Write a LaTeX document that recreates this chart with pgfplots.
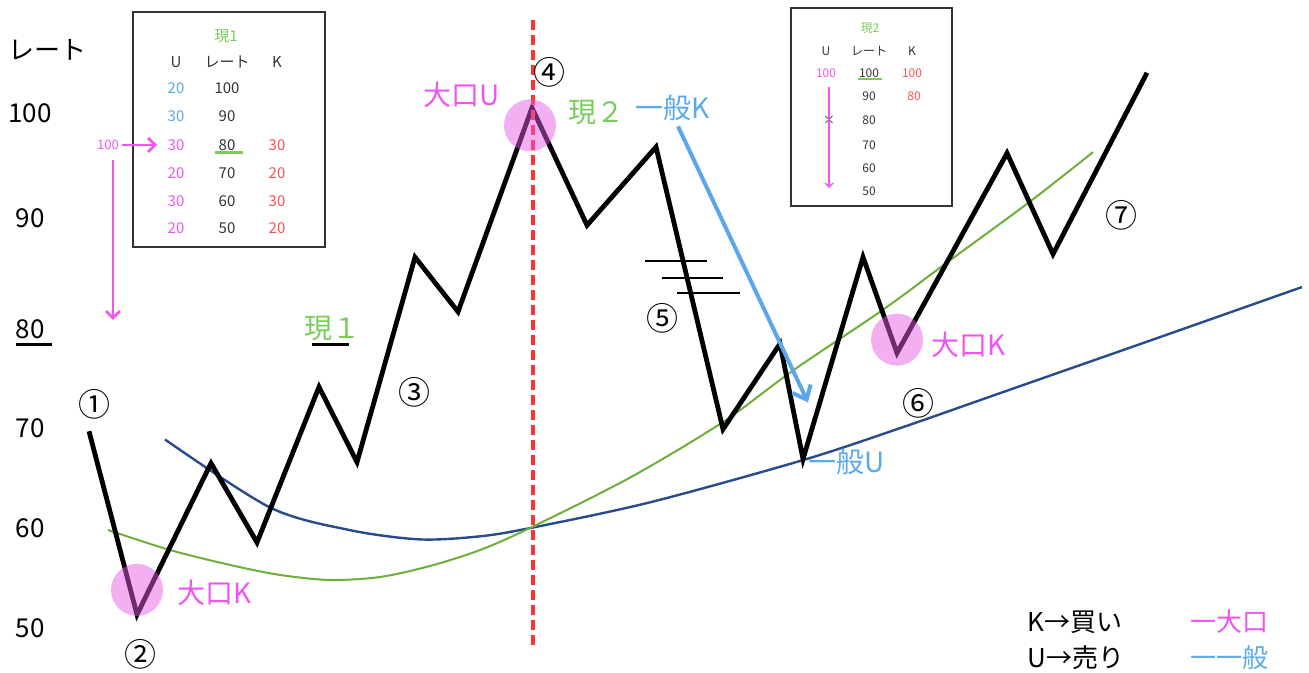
\documentclass[border=0pt]{standalone}
\usepackage{pgfplots}
\pgfplotsset{compat=1.18}
\usepackage{fontspec}
\setmainfont{Noto Sans CJK JP}
\usetikzlibrary{arrows.meta}

\definecolor{pinkT}{RGB}{238,85,238}
\definecolor{greenT}{RGB}{120,205,90}
\definecolor{blueT}{RGB}{90,170,235}
\definecolor{redT}{RGB}{255,80,80}
\definecolor{circ}{RGB}{228,90,228}
\definecolor{dashred}{RGB}{255,50,50}
\definecolor{greencurve}{RGB}{110,175,60}
\definecolor{bluecurve}{RGB}{40,75,140}
\definecolor{arrowblue}{RGB}{90,168,235}
\definecolor{tablegray}{RGB}{51,51,51}

\begin{document}
\begin{tikzpicture}
\begin{axis}[
    name=ax,
    scale only axis,
    width=654.5pt, height=336.5pt,
    xmin=0, xmax=1309,
    ymin=45.63, ymax=110.97,
    hide axis,
    clip=false,
]
% long-term curve (blue) and mid-term curve (green)
\addplot[bluecurve, line width=1.2pt, smooth] coordinates {
    (165,68.3) (270,61.7) (350,59.5) (420,58.6)
    (480,58.9) (530,59.7) (650,62.2) (803,66.3) (900,69.4) (1000,72.8)
    (1150,77.9) (1302,83.1)
};
\addplot[greencurve, line width=1pt, smooth] coordinates {
    (108,59.51) (170,57.57) (230,56.12) (280,55.15) (330,54.66) (380,54.95)
    (430,56.02) (480,57.57) (530,59.71) (630,64.6) (723,70.0) (793,75.0)
    (883,80.9) (950,85.7) (1030,91.4) (1093,96.2)
};
% rate
\addplot[black, line width=2.4pt, line join=miter] coordinates {
    (89,69.1) (137,51.3) (211,66.0) (257,58.3) (319,73.4) (357,66.1)
    (415,86.0) (458,80.7) (532,100.5) (587,89.1) (656,96.7) (723,69.3)
    (780,77.6) (803,66.4) (863,86.0) (897,76.7) (1007,96.1) (1053,86.3)
    (1147,103.9)
};
% hatches
\addplot[black, line width=1pt] coordinates {(645,85.6) (707,85.6)};
\addplot[black, line width=1pt] coordinates {(662,84.0) (723,84.0)};
\addplot[black, line width=1pt] coordinates {(677,82.5) (740,82.5)};
% vertical red line
\addplot[dashred, line width=2pt, dash pattern=on 5pt off 2.5pt] coordinates {(533,109.0) (533,47.9)};
% big players
\addplot[only marks, mark=*, mark size=13pt,
    mark options={draw=circ, draw opacity=0, fill=circ, fill opacity=0.48}]
    coordinates {(137,53.7) (530,98.8) (897,78.0)};
% general buyers arrow
\addplot[arrowblue, line width=2pt, -{Straight Barb[length=6pt, width=10pt]}] coordinates {(678,98.7) (808,71.9)};
\end{axis}

\begin{scope}[shift={(ax.north west)}, x=0.5pt, y=-0.5pt]
  % y scale labels
  \node[font=\fontsize{13}{15}\selectfont] at (48,50) {レート};
  \foreach \v/\py in {100/113, 90/218, 80/329, 70/428, 60/528, 50/628}
    \node[font=\fontsize{13}{15}\selectfont] at (30,\py) {\v};
  \draw[line width=1.5pt] (16,345) -- (52,345);

  % step numbers
  \begin{scope}[every node/.style={font=\fontsize{16}{18}\selectfont}]
    \node at (94,404) {①};
    \node at (140,654) {②};
    \node at (414,392) {③};
    \node at (549,72) {④};
    \node at (662,318) {⑤};
    \node at (918,403) {⑥};
    \node at (1121,215) {⑦};
  \end{scope}

  % annotations
  \begin{scope}[every node/.style={font=\fontsize{14}{16}\selectfont, anchor=west, inner sep=0pt}]
    \node[pinkT] at (177,593) {大口K};
    \node[pinkT] at (423,95) {大口U};
    \node[greenT] at (568,113) {現２};
    \node[blueT] at (635,108) {一般K};
    \node[blueT] at (808,462) {一般U};
    \node[pinkT] at (931,345) {大口K};
    \node[greenT] at (304,329) {現１};
  \end{scope}
  \draw[line width=1.5pt] (312,345) -- (349,345);

  % table 1
  \draw[tablegray, line width=1pt] (133,12) rectangle (325,247);
  \begin{scope}[every node/.style={font=\fontsize{7.5}{9}\selectfont, text=tablegray}]
    \node[text=greenT] at (226,36) {現1};
    \node at (176,62) {U};
    \node at (227,62) {レート};
    \node at (277,62) {K};
    \foreach \u/\uc/\r/\k/\y in {20/blueT/100//88, 30/blueT/90//116, 30/pinkT/80/30/145,
                                 20/pinkT/70/20/173, 30/pinkT/60/30/201, 20/pinkT/50/20/228} {
      \node[text=\uc] at (176,\y) {\u};
      \node at (227,\y) {\r};
      \node[text=redT] at (277,\y) {\k};
    }
  \end{scope}
  \draw[greenT, line width=1.5pt] (215,153) -- (243,153);
  \node[pinkT, font=\fontsize{6.5}{8}\selectfont] at (108,145) {100};
  \draw[pinkT, line width=1.4pt, -{Straight Barb[length=3.5pt, width=7pt]}] (122,145) -- (157,145);
  \draw[pinkT, line width=1.4pt, -{Straight Barb[length=3.5pt, width=7pt]}] (113,160) -- (113,320);

  % table 2
  \draw[tablegray, line width=1pt] (791,8) rectangle (952,206);
  \begin{scope}[every node/.style={font=\fontsize{6}{7}\selectfont, text=tablegray}]
    \node[text=greenT] at (870,28) {現2};
    \node at (826,51) {U};
    \node at (869,51) {レート};
    \node at (912,51) {K};
    \foreach \r/\y in {100/73, 90/96, 80/120, 70/145, 60/168, 50/191}
      \node at (869,\y) {\r};
    \node[text=pinkT] at (826,73) {100};
    \node[text=redT] at (912,73) {100};
    \node[text=redT] at (914,96) {80};
    \node at (829,120) {×};
  \end{scope}
  \draw[greenT, line width=1pt] (858,79) -- (882,79);
  \draw[pinkT, line width=0.7pt, -{Straight Barb[length=2pt, width=4pt]}] (829,87) -- (829,188);

  % key
  \begin{scope}[every node/.style={font=\fontsize{13}{15}\selectfont, anchor=west, inner sep=0pt}]
    \node at (1027,622) {K→買い};
    \node at (1027,658) {U→売り};
    \node[pinkT] at (1190,622) {一大口};
    \node[blueT] at (1190,658) {一一般};
  \end{scope}
\end{scope}

\pgfresetboundingbox
\path[use as bounding box] (ax.south west) rectangle (ax.north east);
\end{tikzpicture}
\end{document}
